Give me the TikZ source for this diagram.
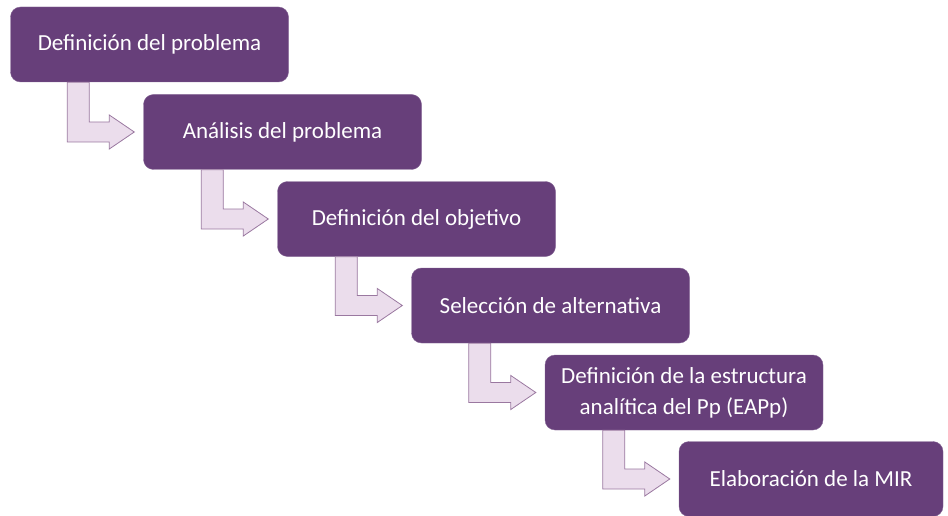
\documentclass[tikz,border=0pt]{standalone}
\usepackage{fontspec}
\setmainfont{Carlito}
\usetikzlibrary{calc}
\definecolor{boxpurple}{HTML}{673F7A}
\definecolor{arrowfill}{HTML}{EBDDEC}
\definecolor{arrowline}{HTML}{9A78A0}
\tikzset{
  stage/.style={draw=boxpurple!80!white, fill=boxpurple, rounded corners=10pt,
    minimum width=278pt, minimum height=75pt, text=white, align=center,
    font=\fontsize{23}{31}\selectfont},
  bentarrow/.style={draw=arrowline, fill=arrowfill, line width=0.8pt, line join=miter}
}
% bent arrow from the bottom of #1 to the left side of #2
\newcommand{\bentarrow}[2]{%
  \draw[bentarrow] ($(#1.south -| #2.west)+(-76,0)$) |- ($(#2.west)+(-34,10)$)
    -- ++(0,7) -- ($(#2.west)+(-9,0)$) -- ++(-25,-17) -- ++(0,7)
    -| ($(#1.south -| #2.west)+(-54,0)$) -- cycle;}
\begin{document}
\begin{tikzpicture}[x=1pt,y=-1pt]
  \useasboundingbox (0,0) rectangle (948,516);
  \node[stage] (def) at (149.5,44.5) {Definición del problema};
  \node[stage] (ana) at (282.5,132) {Análisis del problema};
  \node[stage] (obj) at (416.5,219) {Definición del objetivo};
  \node[stage] (sel) at (550.5,305.5) {Selección de alternativa};
  \node[stage] (eap) at (684,392.5) {Definición de la estructura\\analítica del Pp (EAPp)};
  \node[stage, minimum width=264pt] (mir) at (811,479) {Elaboración de la MIR};
  \bentarrow{def}{ana}
  \bentarrow{ana}{obj}
  \bentarrow{obj}{sel}
  \bentarrow{sel}{eap}
  \bentarrow{eap}{mir}
\end{tikzpicture}
\end{document}
